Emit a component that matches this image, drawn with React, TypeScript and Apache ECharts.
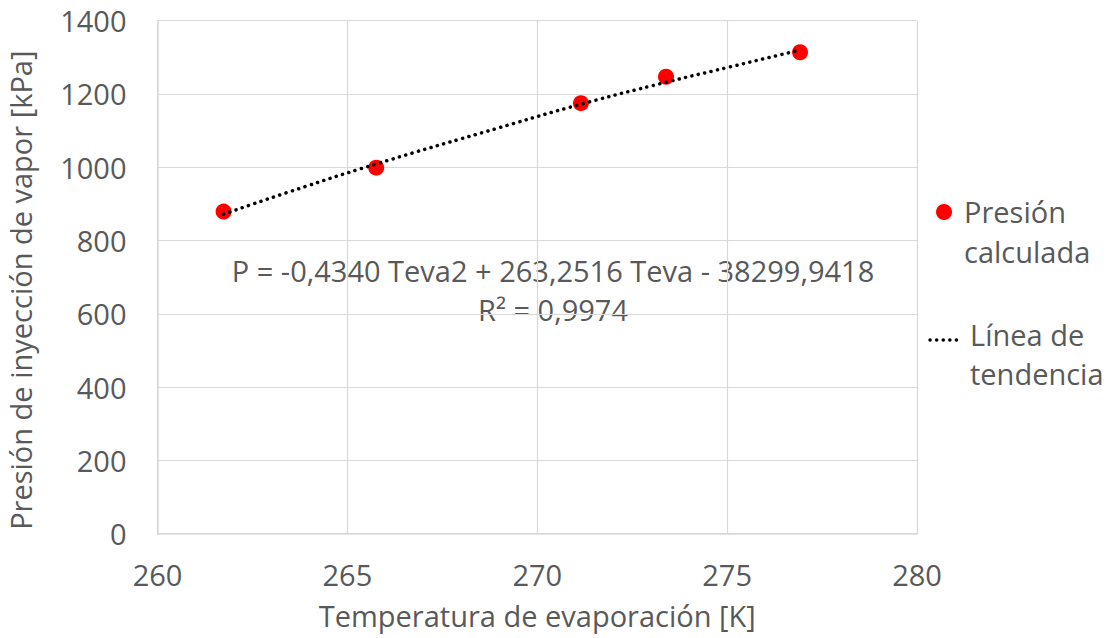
import React, { useEffect, useRef } from "react";
import * as echarts from "echarts";

const tempK = [261.74, 265.76, 271.15, 273.39, 276.92];
const presionKPa = [879, 999, 1175, 1247, 1314];
const trendTemp = [261.74, 263.5, 265.76, 269.0, 271.15, 273.39, 275.0, 276.92];
const trendPres = [872, 934, 1009, 1108, 1172, 1232, 1272, 1320];
const xTicks = [260, 265, 270, 275, 280];
const yTicks = [0, 200, 400, 600, 800, 1000, 1200, 1400];

const FONT = "'Open Sans', 'Noto Sans', sans-serif";
const GRAY = "#595959";
const FS = 29;

export default function App() {
  const ref = useRef<HTMLDivElement>(null);
  useEffect(() => {
    if (!ref.current) return;
    const chart = echarts.init(ref.current, undefined, { renderer: "svg" });
    const gl = 157.5, gt = 20.7, gw = 759.5, gh = 513;
    chart.setOption({
      animation: false,
      textStyle: { fontFamily: FONT },
      grid: { left: gl, top: gt, width: gw, height: gh, containLabel: false, outerBoundsMode: "none" },
      xAxis: {
        type: "value",
        min: xTicks[0],
        max: xTicks[xTicks.length - 1],
        interval: 5,
        axisLine: { show: true, lineStyle: { color: "#d9d9d9", width: 1.5 } },
        axisTick: { show: false },
        splitLine: { show: true, lineStyle: { color: "#d9d9d9", width: 1.2 } },
        axisLabel: { color: GRAY, fontSize: FS, fontFamily: FONT, margin: 26, formatter: (v: number) => String(v) },
        name: "Temperatura de evaporación [K]",
        nameLocation: "middle",
        nameGap: 67,
        nameTextStyle: { color: GRAY, fontSize: FS, fontFamily: FONT },
      },
      yAxis: {
        type: "value",
        min: yTicks[0],
        max: yTicks[yTicks.length - 1],
        interval: 200,
        axisLine: { show: true, lineStyle: { color: "#d9d9d9", width: 1.5 } },
        axisTick: { show: false },
        splitLine: { show: true, lineStyle: { color: "#d9d9d9", width: 1.2 } },
        axisLabel: { color: GRAY, fontSize: FS, fontFamily: FONT, margin: 31, formatter: (v: number) => String(v) },
        name: "Presión de inyección de vapor [kPa]",
        nameLocation: "middle",
        nameGap: 123,
        nameTextStyle: { color: GRAY, fontSize: FS, fontFamily: FONT, padding: [0, 26, 0, 0] },
      },
      series: [
        {
          type: "scatter",
          data: tempK.map((t, i) => [t, presionKPa[i]]),
          symbol: "circle",
          symbolSize: 16,
          itemStyle: { color: "#ff0000", opacity: 1 },
          z: 2,
        },
        {
          type: "line",
          data: trendTemp.map((t, i) => [t, trendPres[i]]),
          smooth: true,
          showSymbol: false,
          symbol: "none",
          lineStyle: { color: "#000000", width: 3.5, type: [0.1, 6.5], cap: "round" },
          z: 3,
        },
      ],
      graphic: [
        {
          type: "text",
          x: 553,
          y: 270,
          style: {
            text: "P = -0,4340 Teva2 + 263,2516 Teva - 38299,9418",
            fill: GRAY,
            font: `${FS}px ${FONT}`,
            textAlign: "center",
            textVerticalAlign: "middle",
          },
        },
        {
          type: "text",
          x: 553,
          y: 309,
          style: {
            text: "R² = 0,9974",
            fill: GRAY,
            font: `${FS}px ${FONT}`,
            textAlign: "center",
            textVerticalAlign: "middle",
          },
        },
        { type: "circle", shape: { cx: 944, cy: 212, r: 8 }, style: { fill: "#ff0000" } },
        {
          type: "text",
          x: 964,
          y: 211,
          style: { text: "Presión", fill: GRAY, font: `${FS}px ${FONT}`, textVerticalAlign: "middle" },
        },
        {
          type: "text",
          x: 964,
          y: 251,
          style: { text: "calculada", fill: GRAY, font: `${FS}px ${FONT}`, textVerticalAlign: "middle" },
        },
        {
          type: "line",
          shape: { x1: 930, y1: 340, x2: 960, y2: 340 },
          style: { stroke: "#000", lineWidth: 3.5, lineDash: [0.1, 6.5], lineCap: "round" },
        },
        {
          type: "text",
          x: 970,
          y: 334,
          style: { text: "Línea de", fill: GRAY, font: `${FS}px ${FONT}`, textVerticalAlign: "middle" },
        },
        {
          type: "text",
          x: 970,
          y: 373,
          style: { text: "tendencia", fill: GRAY, font: `${FS}px ${FONT}`, textVerticalAlign: "middle" },
        },
      ],
    });
    return () => chart.dispose();
  }, []);
  return (
    <div
      ref={ref}
      style={{ position: "fixed", left: 0, top: 0, width: 1111, height: 638, background: "#fff" }}
    />
  );
}
